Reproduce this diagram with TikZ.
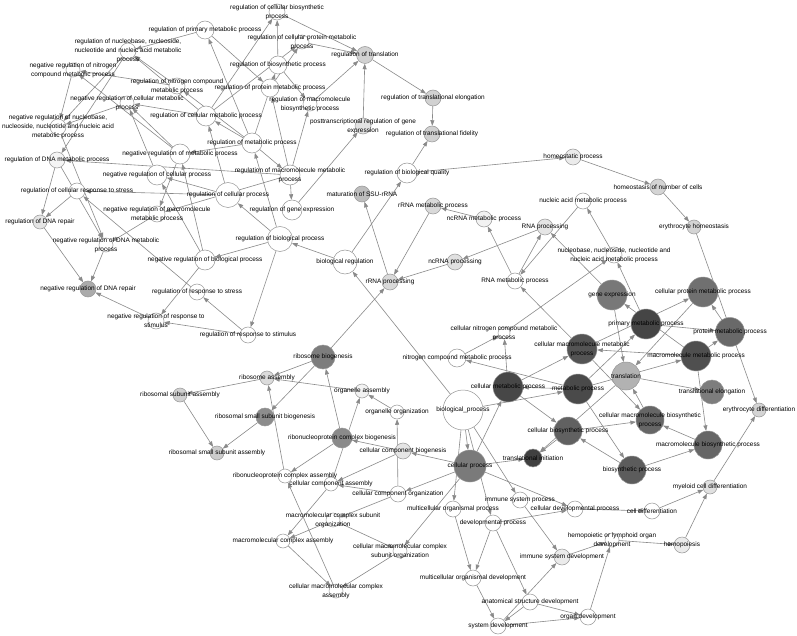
\documentclass[tikz,border=0pt]{standalone}
\usepackage{fontspec}
\setmainfont{Liberation Sans}
\usetikzlibrary{arrows.meta}
\pgfdeclarelayer{bg}\pgfdeclarelayer{fg}
\pgfsetlayers{bg,main,fg}
\definecolor{edgec}{RGB}{138,138,138}
\definecolor{ringc}{RGB}{150,150,150}
\tikzset{
 edge/.style={draw=edgec, line width=0.6pt, -{Triangle[length=5.5pt,width=4pt]}},
 gn/.style={circle, draw=ringc, line width=0.5pt, inner sep=0pt},
 lbl/.style={font=\fontsize{6.45}{8.8}\selectfont, align=center, inner sep=0pt, text=black},
}
\newcommand\GN[6]{\node[gn, fill=#5, minimum size=#4pt] (#1) at (#2,#3) {};
 \begin{pgfonlayer}{fg}\node[lbl] (#1t) at (#2,#3) {#6};\end{pgfonlayer}}
\begin{document}
\begin{tikzpicture}[x=1pt,y=-1pt]
\begin{pgfonlayer}{bg}
\fill[white] (0,0) rectangle (797,636);
\end{pgfonlayer}
\useasboundingbox (0,0) rectangle (797,636);
% ---- top-left regulation cluster
\GN{rpm}{205}{30}{18}{white}{regulation of primary metabolic process}
\GN{rcb}{277}{12}{16}{white}{regulation of cellular biosynthetic\\process}
\GN{rcpm}{302}{42}{14}{white}{regulation of cellular protein metabolic\\process}
\GN{rtr}{365}{55}{17}{black!18}{regulation of translation}
\GN{rnuc}{128}{51}{16}{white}{regulation of nucleobase, nucleoside,\\nucleotide and nucleic acid metabolic\\process}
\GN{nrnc}{73}{70}{14}{white}{negative regulation of nitrogen\\compound metabolic process}
\GN{rnc}{177}{86}{16}{white}{regulation of nitrogen compound\\metabolic process}
\GN{nrcm}{127}{103}{14}{white}{negative regulation of cellular metabolic\\process}
\GN{rcm}{206}{116}{20}{white}{regulation of cellular metabolic process}
\GN{nrnuc}{58}{127}{16}{white}{negative regulation of nucleobase,\\nucleoside, nucleotide and nucleic acid\\metabolic process}
\GN{rdm}{57}{160}{16}{black!4}{regulation of DNA metabolic process}
\GN{nrm}{180}{154}{20}{white}{negative regulation of metabolic process}
\GN{nrcp}{157}{175}{20}{white}{negative regulation of cellular process}
\GN{rcrs}{77}{191}{16}{white}{regulation of cellular response to stress}
\GN{nrmm}{157}{214}{16}{white}{negative regulation of macromolecule\\metabolic process}
\GN{rdr}{40}{222}{14}{black!10}{regulation of DNA repair}
\GN{nrdm}{106}{245}{14}{white}{negative regulation of DNA metabolic\\process}
\GN{nrdr}{88}{289}{16}{black!33}{negative regulation of DNA repair}
\GN{nrrs}{156}{321}{16}{white}{negative regulation of response to\\stimulus}
\GN{rrst}{197}{292}{16}{white}{regulation of response to stress}
\GN{rrsm}{248}{335}{16}{white}{regulation of response to stimulus}
\GN{nrbp}{205}{260}{20}{white}{negative regulation of biological process}
\GN{rbp}{280}{239}{25}{white}{regulation of biological process}
\GN{breg}{345}{262}{24}{white}{biological regulation}
\GN{rbs}{278}{65}{18}{white}{regulation of biosynthetic process}
\GN{rpmp}{270}{88}{18}{white}{regulation of protein metabolic process}
\GN{rmbp}{310}{104}{14}{white}{regulation of macromolecule\\biosynthetic process}
\GN{ptr}{363}{126}{16}{black!11}{posttranscriptional regulation of gene\\expression}
\GN{rtel}{433}{98}{16}{black!18}{regulation of translational elongation}
\GN{rtf}{432}{134}{16}{black!18}{regulation of translational fidelity}
\GN{rbq}{407}{173}{20}{white}{regulation of biological quality}
\GN{mssu}{362}{194}{16}{black!26}{maturation of SSU-rRNA}
\GN{regmp}{252}{143}{20}{white}{regulation of metabolic process}
\GN{rmmp}{290}{175}{20}{white}{regulation of macromolecule metabolic\\process}
\GN{rcp}{228}{195}{25}{white}{regulation of cellular process}
\GN{rge}{292}{210}{20}{white}{regulation of gene expression}
% ---- RNA / homeostasis
\GN{hp}{573}{157}{16}{black!8}{homeostatic process}
\GN{hnc}{658}{187}{16}{black!17}{homeostasis of number of cells}
\GN{eh}{694}{227}{14}{black!17}{erythrocyte homeostasis}
\GN{namp}{583}{201}{16}{white}{nucleic acid metabolic process}
\GN{rnap}{545}{227}{16}{black!10}{RNA processing}
\GN{ncmp}{484}{219}{16}{black!5}{ncRNA metabolic process}
\GN{rrmp}{433}{206}{16}{black!15}{rRNA metabolic process}
\GN{ncp}{455}{262}{16}{black!12}{ncRNA processing}
\GN{rmp}{515}{281}{16}{white}{RNA metabolic process}
\GN{rrnap}{390}{282}{16}{black!15}{rRNA processing}
\GN{nnuc}{614}{255}{16}{white}{nucleobase, nucleoside, nucleotide and\\nucleic acid metabolic process}
\GN{cncmp}{504}{333}{12}{white}{cellular nitrogen compound metabolic\\process}
\GN{ncm}{457}{358}{18}{white}{nitrogen compound metabolic process}
% ---- metabolic core
\GN{cmmp}{582}{349}{30}{black!67}{cellular macromolecule metabolic\\process}
\GN{cmp}{508}{387}{30}{black!72}{cellular metabolic process}
\GN{mp}{578}{389}{30}{black!71}{metabolic process}
\GN{prmp}{646}{324}{30}{black!73}{primary metabolic process}
\GN{ge}{612}{295}{30}{black!53}{gene expression}
\GN{cpmp}{703}{292}{30}{black!56}{cellular protein metabolic process}
\GN{pmp}{730}{332}{29}{black!59}{protein metabolic process}
\GN{mmp}{696}{356}{30}{black!69}{macromolecule metabolic process}
\GN{tr}{626}{376}{28}{black!30}{translation}
\GN{tel}{712}{392}{24}{black!51}{translational elongation}
\GN{cmbp}{650}{420}{28}{black!60}{cellular macromolecule biosynthetic\\process}
\GN{mbp}{708}{445}{28}{black!60}{macromolecule biosynthetic process}
\GN{bsp}{632}{470}{28}{black!64}{biosynthetic process}
\GN{cbp}{568}{431}{28}{black!62}{cellular biosynthetic process}
\GN{ti}{533}{458}{18}{black!75}{translational initiation}
\GN{ed}{759}{410}{14}{black!17}{erythrocyte differentiation}
% ---- development
\GN{bp}{463}{410}{40}{white}{biological\_process}
\GN{cp}{470}{466}{32}{black!52}{cellular process}
\GN{isp}{520}{500}{16}{white}{immune system process}
\GN{cdp}{575}{509}{16}{white}{cellular developmental process}
\GN{mop}{453}{509}{16}{white}{multicellular organismal process}
\GN{dp}{493}{523}{16}{white}{developmental process}
\GN{isd}{562}{557}{16}{black!8}{immune system development}
\GN{hlod}{612}{540}{14}{white}{hemopoietic or lymphoid organ\\development}
\GN{hemo}{682}{545}{16}{black!8}{hemopoiesis}
\GN{mcd}{710}{487}{14}{black!12}{myeloid cell differentiation}
\GN{celld}{652}{511}{16}{white}{cell differentiation}
\GN{mod}{473}{578}{16}{white}{multicellular organismal development}
\GN{asd}{530}{602}{16}{white}{anatomical structure development}
\GN{sd}{498}{626}{16}{white}{system development}
\GN{od}{588}{617}{16}{white}{organ development}
% ---- cellular component
\GN{ribbio}{323}{357}{24}{black!51}{ribosome biogenesis}
\GN{ribas}{267}{378}{14}{black!14}{ribosome assembly}
\GN{orgas}{362}{391}{14}{black!5}{organelle assembly}
\GN{orgorg}{397}{412}{14}{white}{organelle organization}
\GN{rssb}{265}{417}{18}{black!45}{ribosomal small subunit biogenesis}
\GN{rsa}{180}{395}{14}{black!18}{ribosomal subunit assembly}
\GN{rssa}{217}{453}{14}{black!20}{ribosomal small subunit assembly}
\GN{rcbio}{342}{438}{20}{black!46}{ribonucleoprotein complex biogenesis}
\GN{rcas}{285}{476}{14}{white}{ribonucleoprotein complex assembly}
\GN{ccas}{331}{484}{14}{white}{cellular component assembly}
\GN{ccbio}{403}{451}{16}{black!10}{cellular component biogenesis}
\GN{ccorg}{398}{494}{16}{white}{cellular component organization}
\GN{mcso}{333}{520}{14}{white}{macromolecular complex subunit\\organization}
\GN{mca}{283}{541}{14}{white}{macromolecular complex assembly}
\GN{cmcso}{400}{551}{14}{white}{cellular macromolecular complex\\subunit organization}
\GN{cmca}{336}{591}{14}{white}{cellular macromolecular complex\\assembly}
\begin{pgfonlayer}{bg}
\foreach \a/\b in {regmp/rpm,regmp/rcm,regmp/rmmp,regmp/rbs,regmp/nrm,regmp/rnc,%
 rcp/rcm,rcp/nrcp,rcp/rcrs,rbp/rcp,rbp/nrbp,rbp/regmp,rbp/rrsm,breg/rbp,breg/rbq,%
 rbs/rcb,rbs/rmbp,rcm/rcb,rcm/rcpm,rpmp/rcpm,rcpm/rtr,rcb/rtr,rmbp/rtr,ptr/rtr,rge/ptr,%
 rmmp/rge,rmmp/rpmp,rmmp/rmbp,rmmp/nrmm,rmmp/rdm,rtr/rtel,rtel/rtf,rbq/rtf,rbq/hp,%
 rpm/rpmp,rpm/rnuc,rnc/rnuc,rcm/rnuc,rcm/nrcm,nrcm/nrnuc,nrcp/nrcm,nrm/nrcm,nrm/nrmm,%
 nrm/nrnc,rnc/nrnc,nrnc/nrnuc,rnuc/nrnuc,rnuc/rdm,rdm/rdr,rdm/nrdm,rcrs/rdr,nrnuc/nrdm,%
 nrmm/nrdm,rdr/nrdr,nrdm/nrdr,nrrs/nrdr,rrsm/nrrs,rrsm/rrst,nrbp/nrrs,rrst/rcrs,%
 nrbp/nrcp,nrbp/nrm,%
 hp/hnc,hnc/eh,eh/ed,mcd/ed,celld/mcd,hemo/mcd,cdp/celld,hlod/hemo,isd/hlod,od/hlod,%
 isp/isd,sd/isd,sd/od,asd/od,asd/sd,mod/sd,dp/mod,mop/mod,dp/asd,dp/cdp,cp/cdp,%
 bp/cp,bp/mp,bp/mop,bp/dp,bp/isp,bp/breg,cp/ti,cbp/ti,tr/ti,cp/cmp,cp/ccorg,cp/ccbio,%
 cp/cmcso,ccorg/orgorg,orgorg/orgas,ccas/orgas,orgas/ribas,ribas/rsa,ribbio/ribas,%
 ribbio/rssb,rssb/rssa,rsa/rssa,rcas/ribas,rcbio/rcas,rcbio/ribbio,ccbio/rcbio,ccbio/ccas,%
 ccorg/ccas,ccas/mca,mcso/mca,ccorg/mcso,mcso/cmcso,mca/cmca,cmcso/cmca,cmca/rcas,%
 ribbio/rrnap,rrnap/mssu,rrmp/rrnap,ncp/rrnap,rnap/ncp,rmp/rnap,rmp/ncmp,ncmp/rrmp,%
 namp/rmp,nnuc/namp,cncmp/nnuc,ncm/cncmp,mp/ncm,cmp/cncmp,mp/cmp,cmp/cmmp,cmp/cbp,%
 cmmp/rmp,ge/rnap,mp/prmp,mp/mmp,mp/bsp,prmp/pmp,mmp/pmp,pmp/cpmp,cmmp/cpmp,mmp/ge,%
 mmp/cmmp,mmp/mbp,ge/tr,cpmp/tr,cmbp/tr,tr/tel,mbp/cmbp,cbp/cmbp,cmmp/cmbp,bsp/cbp,%
 bsp/mbp,prmp/nnuc}
 {\draw[edge] (\a) -- (\b);}
\end{pgfonlayer}
\end{tikzpicture}
\end{document}
